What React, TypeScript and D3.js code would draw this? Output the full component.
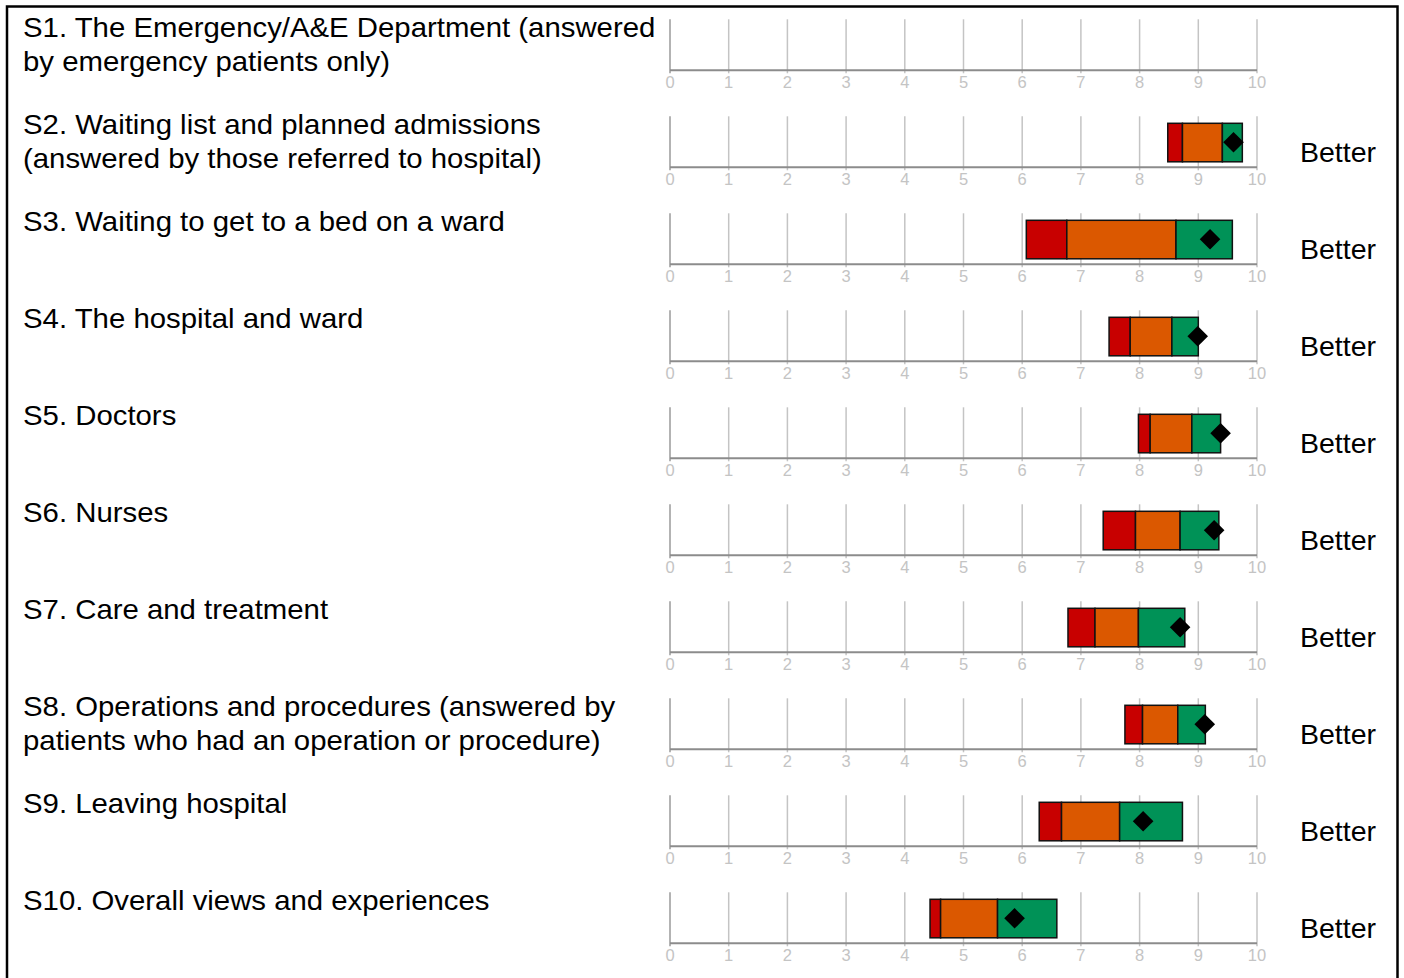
import React, { useEffect, useRef } from "react";
import * as d3 from "d3";

// section labels (already split into lines as in the report)
const sections = ["S1", "S2", "S3", "S4", "S5", "S6", "S7", "S8", "S9", "S10"];
const labelLines = [
  ["S1. The Emergency/A&E Department (answered", "by emergency patients only)"],
  ["S2. Waiting list and planned admissions", "(answered by those referred to hospital)"],
  ["S3. Waiting to get to a bed on a ward"],
  ["S4. The hospital and ward"],
  ["S5. Doctors"],
  ["S6. Nurses"],
  ["S7. Care and treatment"],
  ["S8. Operations and procedures (answered by", "patients who had an operation or procedure)"],
  ["S9. Leaving hospital"],
  ["S10. Overall views and experiences"],
];

// band edges: lowest, end of red band, end of orange band, highest
const bandLow = [null, 8.48, 6.07, 7.48, 7.98, 7.38, 6.78, 7.75, 6.29, 4.43];
const redEnd = [null, 8.73, 6.76, 7.84, 8.18, 7.93, 7.24, 8.05, 6.67, 4.61];
const orangeEnd = [null, 9.41, 8.62, 8.55, 8.89, 8.69, 7.98, 8.65, 7.66, 5.58];
const bandHigh = [null, 9.75, 9.58, 9.0, 9.38, 9.35, 8.77, 9.12, 8.73, 6.59];
// trust score (diamond)
const scores = [null, 9.6, 9.2, 8.99, 9.38, 9.27, 8.69, 9.11, 8.06, 5.87];
const results = ["", "Better", "Better", "Better", "Better", "Better", "Better", "Better", "Better", "Better"];

const ticks = [0, 1, 2, 3, 4, 5, 6, 7, 8, 9, 10];

function App() {
  const ref = useRef<SVGSVGElement>(null);

  useEffect(() => {
    const width = 1404;
    const height = 978;
    const svg = d3.select(ref.current);
    svg.selectAll("*").remove();

    const x = d3.scaleLinear().domain([0, 10]).range([670, 1257]);
    const y = d3.scalePoint().domain(sections).range([70.3, 943.3]);

    // page frame
    svg
      .append("rect")
      .attr("x", 7)
      .attr("y", 6.5)
      .attr("width", 1390.5)
      .attr("height", height + 20)
      .attr("fill", "none")
      .attr("stroke", "#000")
      .attr("stroke-width", 2.5);

    const rows = svg
      .selectAll(".row")
      .data(sections)
      .enter()
      .append("g")
      .attr("class", "row")
      .attr("transform", (d) => `translate(0,${y(d)})`);

    // labels (slightly wide, like the report's font)
    rows.each(function (d, i) {
      const g = d3.select(this);
      const t = g
        .append("text")
        .attr("transform", "translate(23,-33) scale(1.03,1)")
        .attr("font-family", "'Liberation Sans', Arial, sans-serif")
        .attr("font-size", 28.5)
        .attr("fill", "#000");
      labelLines[i].forEach((line, k) => {
        t.append("tspan").attr("x", 0).attr("dy", k === 0 ? 0 : 33.5).text(line);
      });
    });

    // gridlines
    rows
      .selectAll(".grid")
      .data(ticks)
      .enter()
      .append("line")
      .attr("x1", (d) => x(d))
      .attr("x2", (d) => x(d))
      .attr("y1", -51)
      .attr("y2", 3)
      .attr("stroke", (d) => (d === 0 ? "#9a9a9a" : "#c4c4c4"))
      .attr("stroke-width", 1.5);

    // axis baseline
    rows
      .append("line")
      .attr("x1", x(0))
      .attr("x2", x(10))
      .attr("y1", 0)
      .attr("y2", 0)
      .attr("stroke", "#8c8c8c")
      .attr("stroke-width", 2);

    // tick labels
    rows
      .selectAll(".tl")
      .data(ticks)
      .enter()
      .append("text")
      .attr("x", (d) => x(d))
      .attr("y", 18)
      .attr("text-anchor", "middle")
      .attr("font-family", "'Liberation Sans', Arial, sans-serif")
      .attr("font-size", 16.5)
      .attr("fill", "#c4c4c4")
      .text((d) => d);

    // bands
    rows.each(function (d, i) {
      if (bandLow[i] == null) return;
      const g = d3.select(this);
      const parts = [
        [bandLow[i], redEnd[i], "#c80000"],
        [redEnd[i], orangeEnd[i], "#db5800"],
        [orangeEnd[i], bandHigh[i], "#009257"],
      ];
      g.selectAll(".band")
        .data(parts)
        .enter()
        .append("rect")
        .attr("x", (p) => x(p[0] as number))
        .attr("width", (p) => x(p[1] as number) - x(p[0] as number))
        .attr("y", -44)
        .attr("height", 38.5)
        .attr("fill", (p) => p[2] as string)
        .attr("stroke", "#111")
        .attr("stroke-width", 1.5);

      const cx = x(scores[i] as number);
      const s = 10.3;
      g.append("path")
        .attr("d", `M${cx},${-25 - s}L${cx + s},-25L${cx},${-25 + s}L${cx - s},-25Z`)
        .attr("fill", "#000");

      g.append("text")
        .attr("x", 1300)
        .attr("y", -5)
        .attr("font-family", "'Liberation Sans', Arial, sans-serif")
        .attr("font-size", 28.5)
        .attr("fill", "#000")
        .text(results[i]);
    });

    svg.attr("width", width).attr("height", height);
  }, []);

  return (
    <svg
      ref={ref}
      width={1404}
      height={978}
      style={{ position: "absolute", left: 0, top: 0, background: "#fff" }}
    />
  );
}

export default App;
